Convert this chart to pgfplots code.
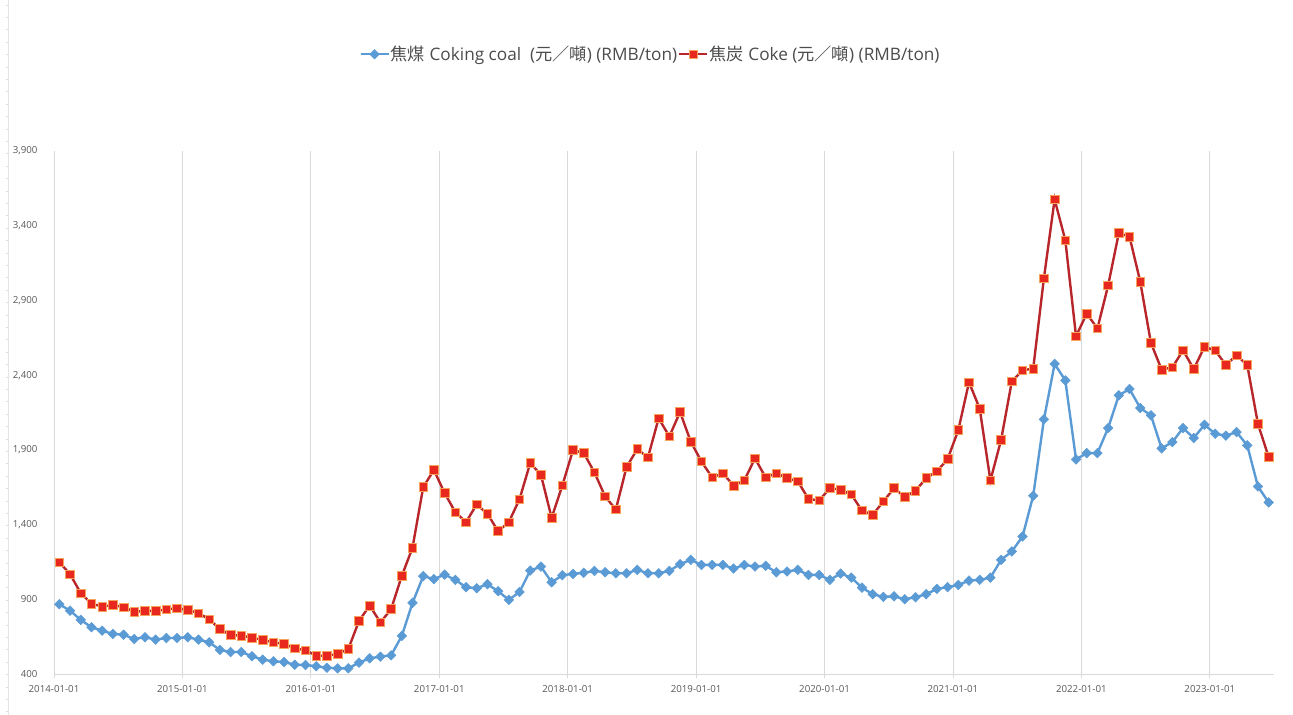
\documentclass[border=0pt]{standalone}
\usepackage{fontspec}
\setmainfont{Open Sans}
\newfontfamily\cjk{Noto Sans CJK TC}
\usepackage{pgfplots}
\pgfplotsset{compat=1.18}
\definecolor{coalblue}{HTML}{5B9BD5}
\definecolor{cokeline}{HTML}{B8262B}
\definecolor{cokefill}{HTML}{E8281F}
\definecolor{cokeedge}{HTML}{F7A35C}
\definecolor{gridc}{HTML}{D9D9D9}
\definecolor{labc}{HTML}{595959}
\begin{document}
\begin{tikzpicture}
\useasboundingbox (0,0) rectangle (1293bp,715bp);
\fill[white] (0,0) rectangle (1293bp,715bp);
\draw[gray!20, line width=0.8bp] (8bp,0) -- (8bp,715bp);
\foreach \k in {0,...,57} {\draw[gray!25, line width=0.6bp] (6bp,{715bp-(5bp+\k*12.4bp)}) -- (9bp,{715bp-(5bp+\k*12.4bp)});}
\begin{axis}[
  at={(54bp,41bp)}, anchor=south west,
  scale only axis, width=1220bp, height=523bp,
  xmin=0, xmax=114, ymin=400, ymax=3900,
  axis lines=left,
  axis line style={-, draw=gridc, line width=0.8bp},
  xtick={0,12,24,36,48,60,72,84,96,108},
  xticklabels={2014-01-01,2015-01-01,2016-01-01,2017-01-01,2018-01-01,2019-01-01,2020-01-01,2021-01-01,2022-01-01,2023-01-01},
  ytick={400,900,1400,1900,2400,2900,3400,3900},
  xmajorgrids, major grid style={draw=gridc, line width=0.8bp},
  tick align=outside, major tick length=4bp,
  xtick style={draw=gridc, line width=0.8bp},
  ytick style={draw=none},
  /pgf/number format/assume math mode=true,
  /pgf/number format/1000 sep={,},
  scaled y ticks=false,
  ticklabel style={font=\fontsize{9.7bp}{11bp}\selectfont, text=labc},
  yticklabel style={xshift=-9bp},
  xticklabel style={yshift=-4bp},
  legend style={at={(0.4885,1.185)}, anchor=center, draw=none, fill=none,
    font=\fontsize{17.2bp}{20bp}\selectfont, text=labc!85!black,
    legend columns=2, inner sep=0pt,
    /tikz/every even column/.append style={column sep=0bp},
    nodes={inner xsep=1bp}},
  legend image code/.code={\draw[mark repeat=2,mark phase=2] plot coordinates {(0bp,0bp) (14bp,0bp) (28bp,0bp)};},
  clip=false,
]
\addplot[color=coalblue, line width=2.4bp, mark=square*, mark size=3.4bp, mark options={rotate=45, fill=coalblue, draw=coalblue, line width=0.5bp}] coordinates {
(0.5,867) (1.5,824) (2.5,762) (3.5,713) (4.5,690) (5.5,668) (6.5,663) (7.5,634) (8.5,646) (9.5,630)
(10.5,641) (11.5,641) (12.5,646) (13.5,630) (14.5,612) (15.5,561) (16.5,547) (17.5,547) (18.5,519) (19.5,496)
(20.5,485) (21.5,480) (22.5,462) (23.5,460) (24.5,452) (25.5,442) (26.5,438) (27.5,438) (28.5,476) (29.5,505)
(30.5,516) (31.5,525) (32.5,655) (33.5,876) (34.5,1055) (35.5,1035) (36.5,1065) (37.5,1030) (38.5,981) (39.5,974)
(40.5,1001) (41.5,954) (42.5,896) (43.5,949) (44.5,1092) (45.5,1119) (46.5,1014) (47.5,1061) (48.5,1070) (49.5,1077)
(50.5,1090) (51.5,1081) (52.5,1074) (53.5,1074) (54.5,1097) (55.5,1074) (56.5,1074) (57.5,1090) (58.5,1135) (59.5,1164)
(60.5,1130) (61.5,1130) (62.5,1130) (63.5,1106) (64.5,1130) (65.5,1119) (66.5,1124) (67.5,1081) (68.5,1086) (69.5,1097)
(70.5,1063) (71.5,1063) (72.5,1030) (73.5,1072) (74.5,1045) (75.5,978) (76.5,934) (77.5,916) (78.5,920) (79.5,900)
(80.5,914) (81.5,934) (82.5,970) (83.5,981) (84.5,996) (85.5,1025) (86.5,1030) (87.5,1045) (88.5,1164) (89.5,1220)
(90.5,1320) (91.5,1593) (92.5,2104) (93.5,2475) (94.5,2365) (95.5,1836) (96.5,1878) (97.5,1878) (98.5,2046) (99.5,2265)
(100.5,2307) (101.5,2180) (102.5,2131) (103.5,1910) (104.5,1952) (105.5,2046) (106.5,1979) (107.5,2068) (108.5,2008) (109.5,1995)
(110.5,2019) (111.5,1930) (112.5,1655) (113.5,1548)
};
\addlegendentry{{\cjk 焦煤} Coking coal\ \ ({\cjk 元／噸}) (RMB/ton)}
\addplot[color=cokeline, line width=2.4bp, mark=square*, mark size=4.3bp, mark options={fill=cokefill, draw=cokeedge, line width=0.7bp}] coordinates {
(0.5,1148) (1.5,1068) (2.5,941) (3.5,871) (4.5,851) (5.5,862) (6.5,847) (7.5,817) (8.5,822) (9.5,822)
(10.5,833) (11.5,840) (12.5,829) (13.5,807) (14.5,766) (15.5,701) (16.5,661) (17.5,657) (18.5,643) (19.5,628)
(20.5,612) (21.5,601) (22.5,572) (23.5,559) (24.5,523) (25.5,521) (26.5,534) (27.5,567) (28.5,755) (29.5,858)
(30.5,745) (31.5,834) (32.5,1057) (33.5,1245) (34.5,1651) (35.5,1765) (36.5,1611) (37.5,1483) (38.5,1416) (39.5,1535)
(40.5,1472) (41.5,1356) (42.5,1416) (43.5,1570) (44.5,1812) (45.5,1733) (46.5,1445) (47.5,1662) (48.5,1899) (49.5,1879)
(50.5,1749) (51.5,1588) (52.5,1501) (53.5,1785) (54.5,1905) (55.5,1849) (56.5,2111) (57.5,1990) (58.5,2153) (59.5,1955)
(60.5,1822) (61.5,1715) (62.5,1744) (63.5,1660) (64.5,1695) (65.5,1843) (66.5,1715) (67.5,1744) (68.5,1711) (69.5,1689)
(70.5,1572) (71.5,1561) (72.5,1644) (73.5,1633) (74.5,1601) (75.5,1494) (76.5,1465) (77.5,1555) (78.5,1644) (79.5,1584)
(80.5,1626) (81.5,1711) (82.5,1756) (83.5,1838) (84.5,2032) (85.5,2353) (86.5,2176) (87.5,1695) (88.5,1967) (89.5,2358)
(90.5,2432) (91.5,2444) (92.5,3049) (93.5,3576) (94.5,3303) (95.5,2660) (96.5,2812) (97.5,2712) (98.5,3000) (99.5,3352)
(100.5,3326) (101.5,3026) (102.5,2615) (103.5,2437) (104.5,2452) (105.5,2566) (106.5,2441) (107.5,2589) (108.5,2566) (109.5,2468)
(110.5,2533) (111.5,2468) (112.5,2073) (113.5,1852)
};
\addlegendentry{{\cjk 焦炭} Coke ({\cjk 元／噸}) (RMB/ton)}
\end{axis}
\end{tikzpicture}
\end{document}
